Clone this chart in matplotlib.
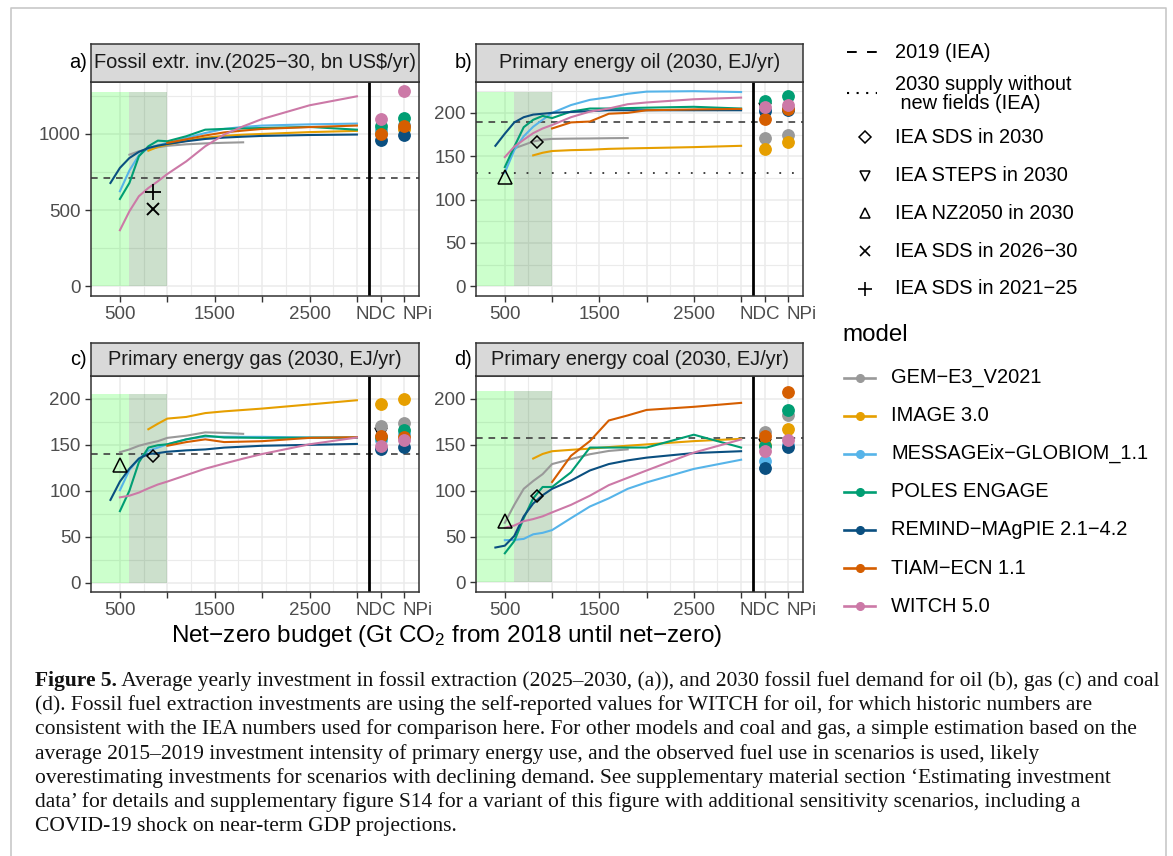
import matplotlib
matplotlib.use("Agg")
import matplotlib.pyplot as plt
from matplotlib.transforms import ScaledTranslation

plt.rcParams["font.family"] = ["Liberation Sans", "DejaVu Sans"]
plt.rcParams["mathtext.default"] = "regular"

W, H = 1173, 856
NAN = float("nan")

models = ["GEM−E3_V2021", "IMAGE 3.0", "MESSAGEix−GLOBIOM_1.1", "POLES ENGAGE",
          "REMIND−MAgPIE 2.1−4.2", "TIAM−ECN 1.1", "WITCH 5.0"]
colors = ["#999999", "#E69F00", "#56B4E9", "#009E73", "#0A4F80", "#D55E00", "#CC79A7"]

# net-zero budgets covered by each model (Gt CO2)
x_gem = [500, 600, 700, 800, 900, 1000, 1200, 1400, 1600, 1800]
x_image = [800, 900, 1000, 1200, 1400, 1600, 1800, 2000, 2500, 3000]
x_message = [500, 600, 700, 800, 900, 1000, 1200, 1400, 1600, 1800, 2000, 2500, 3000]
x_poles = [500, 600, 700, 800, 900, 1000, 1200, 1400, 1600, 1800, 2000, 2500, 3000]
x_remind = [400, 500, 600, 700, 800, 900, 1000, 1200, 1400, 1600, 1800, 2000, 2500, 3000]
x_tiam = [1000, 1200, 1400, 1600, 1800, 2000, 2500, 3000]
x_witch = [500, 600, 700, 800, 900, 1000, 1200, 1400, 1600, 1800, 2000, 2500, 3000]

# a) fossil extraction investment (bn US$/yr)
inv_gem = [NAN, 864, 886, 900, 912, 922, 932, 938, 942, 945]
inv_image = [890, 915, 930, 955, 975, 988, 995, 1000, 1012, 1020]
inv_message = [624, 760, 860, 908, 925, 941, 974, 1006, 1033, 1046, 1055, 1063, 1068]
inv_poles = [573, 678, 853, 919, 956, 952, 985, 1028, 1033, 1036, 1039, 1046, 1028]
inv_remind = [678, 777, 842, 882, 908, 923, 934, 952, 967, 976, 982, 987, 993, 996]
inv_tiam = [941, 965, 990, 1010, 1022, 1033, 1045, 1055]
inv_witch = [368, 492, 591, 645, 689, 737, 820, 919, 996, 1050, 1098, 1188, 1247]
inv_ndc = [1000, 1017, 1028, 1055, 963, 1000, 1101]
inv_npi = [1040, 1033, 1060, 1105, 996, 1055, 1280]

# b) primary energy oil (EJ/yr)
oil_gem = [NAN, 159, 163, 167, 169, 170, 170.3, 170.5, 170.8, 171]
oil_image = [151, 154, 156, 157, 157.5, 158.5, 159, 159.4, 160.5, 162]
oil_message = [131, 157, 173, 184, 192, 200, 209, 215, 218, 222, 224.5, 225, 224]
oil_poles = [137.5, 161, 183.5, 192, 196.5, 194, 201.5, 205, 205, 205.5, 206, 207, 205]
oil_remind = [162, 176, 189, 195, 198, 199, 200, 201, 202, 203, 203, 203, 203, 203]
oil_tiam = [182, 189, 190, 199, 200, 203, 204, 204.5]
oil_witch = [149, 161, 169, 176.6, 182, 186, 195, 201.5, 205, 210, 212, 215.7, 217.6]
oil_ndc = [171, 158.6, 203, 214, 202, 193, 207]
oil_npi = [174, 166, 205, 219, 203, 205, 209]

# c) primary energy gas (EJ/yr)
gas_gem = [142, 145, 149, 151.7, 154, 157.6, 160, 163.6, 163, 162]
gas_image = [167, 173, 178.6, 180.4, 184.6, 186.5, 188, 189.5, 194, 198.6]
gas_message = [100.5, 122.6, 135, 143.6, 147, 150.6, 156, 159, 158.8, 158.7, 158.7, 158, 157.6]
gas_poles = [77.8, 100, 131, 147, 149.6, 150.6, 156, 160, 158, 157.8, 157.6, 157.8, 158]
gas_remind = [90, 110, 124, 135, 140, 141, 142.5, 144, 145, 147, 148, 149, 150, 151]
gas_tiam = [149, 153, 156, 153, 153.5, 154, 157.6, 158.3]
gas_witch = [92.8, 94.6, 98, 102.6, 106.8, 110, 117, 124, 129.6, 135, 140, 150.6, 158]
gas_ndc = [170, 194.4, 155, 158.6, 146, 160, 149]
gas_npi = [174, 199.6, 162, 166, 148, 158.6, 155]

# d) primary energy coal (EJ/yr)
coal_gem = [65, 84.5, 102, 110.5, 118, 129, 134.4, 139.7, 143.3, 145]
coal_image = [135, 140, 143, 144.5, 145.8, 147.5, 149, 150.4, 154, 156.5]
coal_message = [46, 46.3, 47.4, 52.4, 54, 57, 70, 82.7, 91.6, 102, 109, 123.7, 133.7]
coal_poles = [31.7, 45, 70, 91.6, 104, 104, 120, 147, 147, 147, 147, 161, 147]
coal_remind = [38, 40, 50.6, 72, 86, 95, 102, 111, 122, 129, 133, 136, 141, 143]
coal_tiam = [109.4, 138, 154, 176.5, 182, 188, 191.4, 195.7]
coal_witch = [59.5, 62, 66.7, 69, 72, 76.3, 84.5, 94.5, 106, 114, 122, 141.5, 155.8]
coal_ndc = [163.6, 150, 132.6, 148.7, 124.4, 160, 143.3]
coal_npi = [182.5, 167, 150, 188, 147.6, 208, 155]

# IEA reference values
iea_2019 = [711, 189.6, 140, 157.6]
iea_no_new_fields_oil = 130.6
iea_sds_2030 = [None, 166, 138, 94]
iea_nz2050_2030 = [None, 126, 128, 66.7]
iea_steps_2030 = [None, 204, 162, 150]
iea_sds_2026_30 = 508
iea_sds_2021_25 = 619
sds_budget = 845
nz_budget = 500

NDC_X, NPI_X, SEP_X = 3250, 3500, 3125
xs = [x_gem, x_image, x_message, x_poles, x_remind, x_tiam, x_witch]

TICK_SIZE = 13.5
STRIP_SIZE = 14.4
TICK_LEN, TICK_PAD = 4.0, 3.3


def px_rect(l, t, r, b):
    return [l / W, 1 - b / H, (r - l) / W, (b - t) / H]


fig = plt.figure(figsize=(W / 100, H / 100), dpi=100)


def draw_panel(k, box, tag, title, series, ndc, npi, ylim, yticks, ymax):
    l, t, r, b = box
    ax = fig.add_axes(px_rect(l, t, r, b))
    ax.set_xlim(195, 3655)
    ax.set_ylim(*ylim)
    ax.set_xticks([500, 1000, 1500, 2000, 2500, 3000, NDC_X, NPI_X])
    ax.set_xticklabels(["500", "", "1500", "", "2500", "", "", ""])
    ax.set_xticks([750, 1250, 1750, 2250, 2750], minor=True)
    ax.set_yticks(yticks)
    ax.set_yticks([v + (yticks[1] - yticks[0]) / 2 for v in yticks], minor=True)
    ax.grid(which="major", color="#EBEBEB", lw=1.1)
    ax.grid(which="minor", color="#EBEBEB", lw=0.8)
    ax.set_axisbelow(True)
    ax.tick_params(which="major", length=TICK_LEN, width=1.0, color="#333333",
                   labelcolor="#4D4D4D", labelsize=TICK_SIZE, pad=TICK_PAD)
    ax.tick_params(which="minor", length=0)
    for s in ax.spines.values():
        s.set_color("#333333")
        s.set_linewidth(1.1)
    # NDC / NPi labels sit a little apart from their ticks so they do not collide
    base = ax.get_xaxis_transform()
    dy = -(TICK_LEN + TICK_PAD) / 72
    for xv, lab, dx in [(NDC_X, "NDC", -5), (NPI_X, "NPi", 13)]:
        off = ScaledTranslation(dx / 100, dy, fig.dpi_scale_trans)
        ax.text(xv, 0, lab, transform=base + off, ha="center", va="top",
                fontsize=TICK_SIZE, color="#4D4D4D", clip_on=False)
    # budget ranges
    ax.fill_between([0, 600], 0, ymax, color="#00FF00", alpha=0.2, lw=0)
    ax.fill_between([600, 1000], 0, ymax, color="#006400", alpha=0.2, lw=0)
    ax.axhline(iea_2019[k], color="#404040", lw=1.2, dashes=(4, 3.5))
    if k == 1:
        ax.axhline(iea_no_new_fields_oil, color="#333333", lw=1.3, ls=(0, (1, 6)))
    ax.axvline(SEP_X, color="black", lw=2.0)
    for xv, yv, c in zip(xs, series, colors):
        ax.plot(xv, yv, color=c, lw=1.5, zorder=3)
    if iea_steps_2030[k] is not None:
        ax.plot(NDC_X, iea_steps_2030[k], marker="v", ms=9, mfc="none", mec="black", mew=1.1, zorder=3)
    for yv_ndc, yv_npi, c in zip(ndc, npi, colors):
        ax.plot([NDC_X, NPI_X], [yv_ndc, yv_npi], ls="none", marker="o", ms=8.2, color=c, zorder=4)
    if iea_sds_2030[k] is not None:
        ax.plot(sds_budget, iea_sds_2030[k], marker="D", ms=6.5, mfc="none", mec="black", mew=1.1, zorder=5)
        ax.plot(nz_budget, iea_nz2050_2030[k], marker="^", ms=9.5, mfc="none", mec="black", mew=1.1, zorder=5)
    if k == 0:
        ax.plot(sds_budget, iea_sds_2026_30, marker="x", ms=8.5, color="black", mew=1.4, zorder=5)
        ax.plot(sds_budget, iea_sds_2021_25, marker="+", ms=11, color="black", mew=1.3, zorder=5)
    # strip
    sax = fig.add_axes(px_rect(l, t - 38 if k < 2 else t - 33, r, t))
    sax.set_facecolor("#D9D9D9")
    sax.set_xticks([])
    sax.set_yticks([])
    for s in sax.spines.values():
        s.set_color("#333333")
        s.set_linewidth(1.1)
    sax.text(0.5, 0.5, title, ha="center", va="center", fontsize=STRIP_SIZE, color="#1A1A1A",
             transform=sax.transAxes)
    ty = (t - 19) if k < 2 else (t - 16.5)
    fig.text((l - 4) / W, 1 - ty / H, tag, ha="right", va="center", fontsize=STRIP_SIZE)
    return ax


draw_panel(0, (91, 82, 419, 296), "a)", "Fossil extr. inv.(2025−30, bn US$/yr)",
           [inv_gem, inv_image, inv_message, inv_poles, inv_remind, inv_tiam, inv_witch],
           inv_ndc, inv_npi, (-64, 1341), [0, 500, 1000], 1277)
draw_panel(1, (476, 82, 803, 296), "b)", "Primary energy oil (2030, EJ/yr)",
           [oil_gem, oil_image, oil_message, oil_poles, oil_remind, oil_tiam, oil_witch],
           oil_ndc, oil_npi, (-11.2, 235.6), [0, 50, 100, 150, 200], 224.5)
draw_panel(2, (91, 376, 419, 592), "c)", "Primary energy gas (2030, EJ/yr)",
           [gas_gem, gas_image, gas_message, gas_poles, gas_remind, gas_tiam, gas_witch],
           gas_ndc, gas_npi, (-10.3, 216), [0, 50, 100, 150, 200], 205)
draw_panel(3, (476, 376, 803, 592), "d)", "Primary energy coal (2030, EJ/yr)",
           [coal_gem, coal_image, coal_message, coal_poles, coal_remind, coal_tiam, coal_witch],
           coal_ndc, coal_npi, (-10.5, 219.7), [0, 50, 100, 150, 200], 209)

fig.text(447 / W, 1 - 636 / H, "Net−zero budget (Gt CO$_2$ from 2018 until net−zero)",
         ha="center", va="center", fontsize=17.5)

# overlay in pixel coordinates for legend, frame and caption
lax = fig.add_axes([0, 0, 1, 1])
lax.set_xlim(0, W)
lax.set_ylim(H, 0)
lax.axis("off")
lax.plot([11, 11, 1166, 1166], [H + 5, 8, 8, H + 5], color="#C8C8C8", lw=1.2)

LEG_SIZE = 14.4
lx0, lx1, tx = 847, 877, 895
lax.plot([lx0, lx1], [52, 52], color="black", lw=1.4, dashes=(5, 5.3))
lax.text(tx, 52, "2019 (IEA)", va="center", fontsize=LEG_SIZE)
lax.plot([lx0, lx1], [93, 93], color="black", lw=1.5, ls=(0, (1, 3.6)))
lax.text(tx, 84, "2030 supply without", va="center", fontsize=LEG_SIZE)
lax.text(tx, 103, " new fields (IEA)", va="center", fontsize=LEG_SIZE)
sym = [("D", "IEA SDS in 2030", 137, 6.0, "none"),
       ("v", "IEA STEPS in 2030", 175.5, 7.5, "none"),
       ("^", "IEA NZ2050 in 2030", 213, 7.5, "none"),
       ("x", "IEA SDS in 2026−30", 251, 7.0, None),
       ("+", "IEA SDS in 2021−25", 289, 10, None)]
for m, lab, yy, ms, mfc in sym:
    if mfc == "none":
        lax.plot(865, yy, marker=m, ms=ms, mfc="none", mec="black", mew=1.1)
    else:
        lax.plot(865, yy, marker=m, ms=ms, color="black", mew=1.2)
    lax.text(tx, yy, lab, va="center", fontsize=LEG_SIZE)

lax.text(842, 335, "model", va="center", fontsize=17.4)
for i, (name, c) in enumerate(zip(models, colors)):
    yy = 377.5 + i * 38.1
    lax.plot([844, 875], [yy, yy], color=c, lw=1.9)
    lax.plot(859.5, yy, marker="o", ms=5.5, color=c)
    lax.text(891, yy, name, va="center", fontsize=LEG_SIZE)

# caption
serif = "Liberation Serif"
cap_lines = [
    " Average yearly investment in fossil extraction (2025–2030, (a)), and 2030 fossil fuel demand for oil (b), gas (c) and coal",
    "(d). Fossil fuel extraction investments are using the self-reported values for WITCH for oil, for which historic numbers are",
    "consistent with the IEA numbers used for comparison here. For other models and coal and gas, a simple estimation based on the",
    "average 2015–2019 investment intensity of primary energy use, and the observed fuel use in scenarios is used, likely",
    "overestimating investments for scenarios with declining demand. See supplementary material section ‘Estimating investment",
    "data’ for details and supplementary figure S14 for a variant of this figure with additional sensitivity scenarios, including a",
    "COVID-19 shock on near-term GDP projections.",
]
cap_size = 15.5
renderer = fig.canvas.get_renderer()
bold = lax.text(35, 681, "Figure 5.", family=serif, fontweight="bold", fontsize=cap_size,
                va="center", color="#111111")
bw = bold.get_window_extent(renderer).width
for i, line in enumerate(cap_lines):
    x0 = 35 + bw if i == 0 else 35
    lax.text(x0, 681 + i * 24.2, line, family=serif, fontsize=cap_size, va="center", color="#111111")

fig.savefig("out.png", dpi=100)
